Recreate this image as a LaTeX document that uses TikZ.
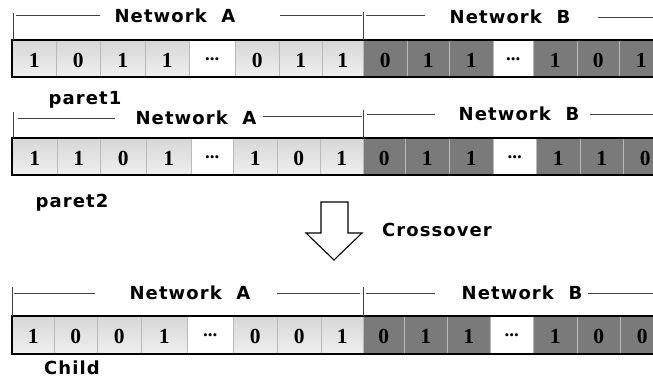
\documentclass[tikz,border=0pt]{standalone}
\usepackage{fontspec}
\setmainfont{Liberation Serif}
\newfontfamily\lblfont[LetterSpace=6]{DejaVu Sans}
\definecolor{darkcell}{RGB}{122,122,122}
\tikzset{
  cell/.style={draw=gray!55, line width=0.6pt, inner sep=0pt, anchor=north west,
    text height=17pt, text depth=0pt, font=\fontsize{21.5}{22}\selectfont\bfseries},
  L/.style={cell, top color=gray!32, bottom color=gray!12},
  D/.style={cell, fill=darkcell},
  W/.style={cell, fill=white},
  lbl/.style={font=\lblfont\bfseries\fontsize{18}{20}\selectfont, inner sep=0pt},
  hline/.style={draw=black!75, line width=0.5pt},
  barframe/.style={draw=black, line width=1.5pt},
  blockarrow/.style={draw=black, line width=1.1pt, fill=white, line join=miter}
}
\newcommand{\dotsym}{\raisebox{7pt}{\fontsize{19}{19}\selectfont ...}}
\newcommand{\gaRow}[4]{%
  \foreach \a/\b/\v/\s [count=\i] in {#4} {
    \pgfmathsetmacro{\w}{\b-\a}
    \pgfmathsetmacro{\h}{#3-#2}
    \node[\s, minimum width=\w pt, minimum height=\h pt] (#1c\i) at (\a,#2) {\v\hspace{10pt}};
  }
  \draw[barframe] (12,#2) rectangle (680,#3);
}
\begin{document}
\begin{tikzpicture}[x=1pt,y=-1pt]
\useasboundingbox (0,0) rectangle (653,381);
\clip (0,0) rectangle (653,381);

% ---------- Row 1 (parent 1) ----------
\gaRow{r1}{40}{77}{12/56/1/L, 56/100/0/L, 100/145/1/L, 145/189/1/L, 189/235/\dotsym/W, 235/279/0/L, 279/322/1/L, 322/363/1/L,
  363/407/0/D, 407/449/1/D, 449/493/1/D, 493/533/\dotsym/W, 533/577/1/D, 577/619/0/D, 619/663/1/D}
\node[lbl] (r1A) at (175,16) {Network\ \ A};
\node[lbl] (r1B) at (510,17) {Network\ \ B};
\draw[hline] (13,13) -- (13,40);
\draw[hline] (16,15) -- (100,15);
\draw[hline] (280,15) -- (362,15);
\draw[hline] (363,12) -- (363,40);
\draw[hline] (366,15) -- (425,15);
\draw[hline] (598,17) -- (653,17);
\node[lbl] (p1) at (85,100) {paret1};

% ---------- Row 2 (parent 2) ----------
\gaRow{r2}{138}{175}{12/57/1/L, 57/100/1/L, 100/146/0/L, 146/191/1/L, 191/233/\dotsym/W, 233/277/1/L, 277/320/0/L, 320/363/1/L,
  363/405/0/D, 405/449/1/D, 449/493/1/D, 493/536/\dotsym/W, 536/580/1/D, 580/623/1/D, 623/667/0/D}
\node[lbl] (r2A) at (196,118) {Network\ \ A};
\node[lbl] (r2B) at (519,114) {Network\ \ B};
\draw[hline] (13,112) -- (13,138);
\draw[hline] (18,118) -- (115,118);
\draw[hline] (263,116) -- (362,116);
\draw[hline] (363,110) -- (363,138);
\draw[hline] (367,114) -- (435,114);
\draw[hline] (590,114) -- (653,114);
\node[lbl] (p2) at (72,203) {paret2};

% ---------- Crossover arrow ----------
\node[lbl] (cx) at (437,230) {Crossover};
\draw[blockarrow] (321,202) -- (348,202) -- (348,233) -- (362,233) -- (334,260) -- (306,233) -- (321,233) -- cycle;

% ---------- Row 3 (child) ----------
\gaRow{r3}{316}{354}{12/54/1/L, 54/97/0/L, 97/141/0/L, 141/187/1/L, 187/233/\dotsym/W, 233/277/0/L, 277/321/0/L, 321/363/1/L,
  363/404/0/D, 404/447/1/D, 447/490/1/D, 490/533/\dotsym/W, 533/577/1/D, 577/620/0/D, 620/664/0/D}
\node[lbl] (r3A) at (190,293) {Network\ \ A};
\node[lbl] (r3B) at (522,293) {Network\ \ B};
\draw[hline] (12,287) -- (12,316);
\draw[hline] (14,293) -- (95,293);
\draw[hline] (277,293) -- (360,293);
\draw[hline] (363,287) -- (363,316);
\draw[hline] (366,293) -- (435,293);
\draw[hline] (588,293) -- (653,293);
\node[lbl] (ch) at (72,368) {Child};
\end{tikzpicture}
\end{document}
